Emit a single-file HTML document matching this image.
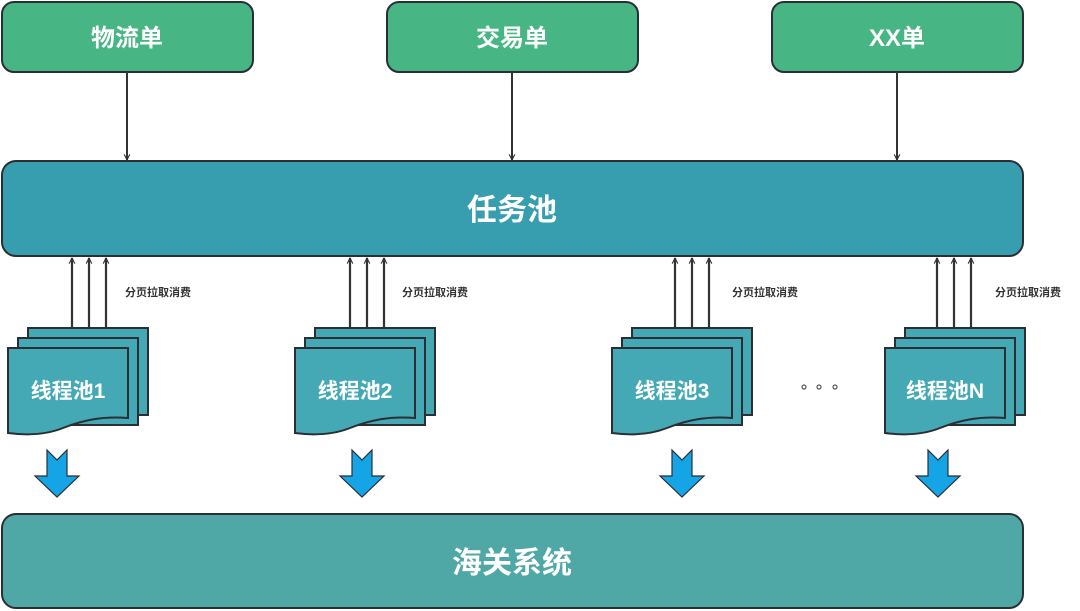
<!DOCTYPE html>
<html><head><meta charset="utf-8"><style>
html,body{margin:0;padding:0;background:#fff;}
svg{display:block;}
text{font-family:"Liberation Sans","Noto Sans CJK SC",sans-serif;font-weight:bold;}
</style></head><body>
<svg width="1080" height="611" viewBox="0 0 1080 611" xmlns="http://www.w3.org/2000/svg">
<defs>
<marker id="ah" viewBox="0 0 10 10" refX="9" refY="5" markerWidth="7" markerHeight="7" orient="auto-start-reverse" markerUnits="userSpaceOnUse">
<path d="M1,1 L9,5 L1,9" fill="none" stroke="#333" stroke-width="1.6"/>
</marker>
<g id="doc">
<rect x="20" y="-20" width="120" height="87" fill="#44a9b4" stroke="#2b2f33" stroke-width="2"/>
<rect x="10" y="-10" width="120" height="87" fill="#44a9b4" stroke="#2b2f33" stroke-width="2"/>
<path d="M0,0 H120 V70 C95,68 75,72 55,80 C35,88 15,87 0,85 Z" fill="#44a9b4" stroke="#2b2f33" stroke-width="2"/>
</g>
<g id="blu">
<path d="M0,0 L10,10 L20,0 V26 H32 L10,47 L-12,26 H0 Z" fill="#15a5e6" stroke="#2b2f33" stroke-width="1.2"/>
</g>
</defs>

<!-- top boxes -->
<rect x="2" y="2" width="251" height="70" rx="12" fill="#48b585" stroke="#2b2f33" stroke-width="2"/>
<text x="127" y="46" font-size="24" fill="#fff" text-anchor="middle">物流单</text>
<rect x="387" y="2" width="251" height="70" rx="12" fill="#48b585" stroke="#2b2f33" stroke-width="2"/>
<text x="512" y="46" font-size="24" fill="#fff" text-anchor="middle">交易单</text>
<rect x="772" y="2" width="251" height="70" rx="12" fill="#48b585" stroke="#2b2f33" stroke-width="2"/>
<text x="897" y="46" font-size="24" fill="#fff" text-anchor="middle">XX单</text>

<g stroke="#333" stroke-width="2" marker-end="url(#ah)">
<line x1="127" y1="72" x2="127" y2="160"/>
<line x1="512" y1="72" x2="512" y2="160"/>
<line x1="897" y1="72" x2="897" y2="160"/>
</g>

<rect x="2" y="161" width="1021" height="95" rx="14" fill="#379eb0" stroke="#2b2f33" stroke-width="2"/>
<text x="512" y="220" font-size="30" fill="#fff" text-anchor="middle">任务池</text>

<!-- up arrows -->
<g stroke="#333" stroke-width="2.2" marker-end="url(#ah)">
<line x1="72" y1="327" x2="72" y2="258"/><line x1="89" y1="327" x2="89" y2="258"/><line x1="106" y1="327" x2="106" y2="258"/>
<line x1="350" y1="327" x2="350" y2="258"/><line x1="367" y1="327" x2="367" y2="258"/><line x1="384" y1="327" x2="384" y2="258"/>
<line x1="675" y1="327" x2="675" y2="258"/><line x1="692" y1="327" x2="692" y2="258"/><line x1="709" y1="327" x2="709" y2="258"/>
<line x1="937" y1="327" x2="937" y2="258"/><line x1="954" y1="327" x2="954" y2="258"/><line x1="971" y1="327" x2="971" y2="258"/>
</g>
<g font-size="11" fill="#333">
<text x="125" y="296">分页拉取消费</text>
<text x="402" y="296">分页拉取消费</text>
<text x="732" y="296">分页拉取消费</text>
<text x="995" y="296">分页拉取消费</text>
</g>

<use href="#doc" x="8" y="348"/>
<use href="#doc" x="295" y="348"/>
<use href="#doc" x="612" y="348"/>
<use href="#doc" x="885" y="348"/>
<g font-size="21" fill="#fff" text-anchor="middle">
<text x="68" y="398">线程池1</text>
<text x="355" y="398">线程池2</text>
<text x="672" y="398">线程池3</text>
<text x="945" y="398">线程池N</text>
</g>
<g fill="#fff" stroke="#555" stroke-width="1.2">
<circle cx="804" cy="387" r="2"/><circle cx="819" cy="387" r="2"/><circle cx="835" cy="387" r="2"/>
</g>

<use href="#blu" x="47" y="450"/>
<use href="#blu" x="352" y="450"/>
<use href="#blu" x="672" y="450"/>
<use href="#blu" x="928" y="450"/>

<rect x="2" y="514" width="1021" height="94" rx="14" fill="#4fa7a6" stroke="#2b2f33" stroke-width="2"/>
<text x="512" y="573" font-size="30" fill="#fff" text-anchor="middle">海关系统</text>
</svg>
</body></html>
